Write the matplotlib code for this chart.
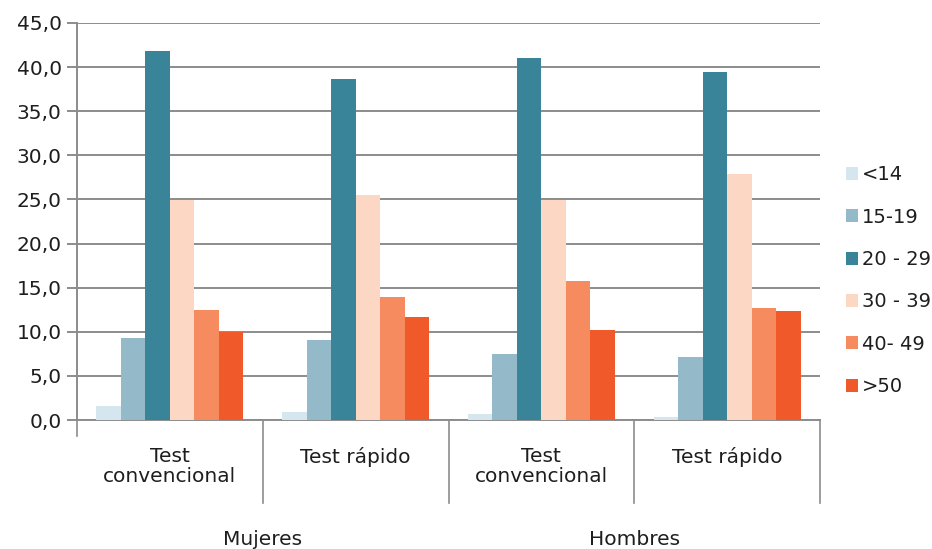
import matplotlib
matplotlib.use("Agg")
import matplotlib.pyplot as plt
import matplotlib.transforms as mtransforms
from matplotlib.patches import Patch
import numpy as np

plt.rcParams['font.family'] = ['DejaVu Sans']

# data
categories = ["Test\nconvencional", "Test rápido", "Test\nconvencional", "Test rápido"]
groups = ["Mujeres", "Hombres"]
age_labels = ["<14", "15-19", "20 - 29", "30 - 39", "40- 49", ">50"]
v_lt14 = [1.6, 0.9, 0.7, 0.3]
v_15_19 = [9.3, 9.1, 7.5, 7.1]
v_20_29 = [41.8, 38.7, 41.0, 39.4]
v_30_39 = [24.9, 25.5, 24.9, 27.9]
v_40_49 = [12.5, 13.9, 15.7, 12.7]
v_gt50 = [10.0, 11.7, 10.2, 12.4]
series = [v_lt14, v_15_19, v_20_29, v_30_39, v_40_49, v_gt50]
colors = ["#D6E6EE", "#94BACA", "#3A8499", "#FCD8C4", "#F58B5E", "#F05A2A"]

txt_c = "#1e1e1e"
fs = 14.5

fig = plt.figure(figsize=(9.32, 5.49), dpi=100)
ax = fig.add_axes([77/932, 129/549, 743/932, 397/549])

x = np.arange(len(categories))
w = 0.132
for i, (vals, c) in enumerate(zip(series, colors)):
    ax.bar(x + (i - 2.5) * w, vals, width=w, color=c, edgecolor="none", zorder=3)

grid_c = "#8c8c8c"
ax.set_xlim(-0.5, 3.5)
ax.set_ylim(0, 45)
ax.set_yticks(np.arange(0, 46, 5))
ax.set_yticklabels([f"{v:.1f}".replace(".", ",") for v in np.arange(0, 46, 5)])
ax.yaxis.grid(True, color=grid_c, lw=1.4, zorder=0)
ax.set_axisbelow(True)
for s in ["top", "right"]:
    ax.spines[s].set_visible(False)
for s in ["left", "bottom"]:
    ax.spines[s].set_color(grid_c)
    ax.spines[s].set_linewidth(1.4)
ax.tick_params(axis="y", length=7, width=1.4, color=grid_c, labelsize=fs, pad=4, labelcolor=txt_c)
ax.set_xticks([])

# multi-level category axis
tr = mtransforms.blended_transform_factory(ax.transData, ax.transAxes)
bounds = np.arange(len(categories) + 1) - 0.5
for k, b in enumerate(bounds):
    y_end = -0.040 if k == 0 else -0.209
    ax.plot([b, b], [0, y_end], transform=tr, color=grid_c, lw=1.2, clip_on=False)
for xi, lab in zip(x, categories):
    ax.text(xi, -0.068, lab, transform=tr, ha="center", va="top",
            fontsize=fs, color=txt_c, linespacing=1.1)
for gi, g in enumerate(groups):
    ax.text(gi * 2 + 0.5, -0.302, g, transform=tr, ha="center", va="center",
            fontsize=fs, color=txt_c)

handles = [Patch(facecolor=c, edgecolor="none") for c in colors]
fig.legend(handles, age_labels, loc="center left", bbox_to_anchor=(838/932, 0.489),
           frameon=False, fontsize=14, handlelength=0.65, handleheight=0.65,
           handletextpad=0.2, labelspacing=1.2, labelcolor=txt_c, borderaxespad=0)

fig.savefig("out.png", dpi=100)
